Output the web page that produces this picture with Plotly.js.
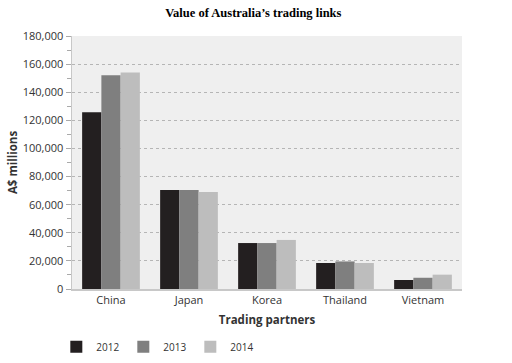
<!DOCTYPE html>
<html>
<head>
<meta charset="utf-8">
<script src="https://cdn.plot.ly/plotly-3.0.1.min.js"></script>
<style>html,body{margin:0;padding:0;background:#fff;}#chart{width:512px;height:363px;}</style>
</head>
<body>
<div id="chart"></div>
<script>
const categories = ["China", "Japan", "Korea", "Thailand", "Vietnam"];
const years = ["2012", "2013", "2014"];
const values2012 = [125700, 70400, 32700, 18500, 6400];
const values2013 = [152000, 70400, 32700, 19600, 8000];
const values2014 = [154000, 69000, 34900, 18500, 10200];
const colors = ["#231f20", "#7f7f7f", "#bdbdbd"];

const series = [values2012, values2013, values2014];
const data = series.map((vals, i) => ({
  type: "bar",
  name: years[i],
  x: categories,
  y: vals,
  marker: {color: colors[i], line: {width: 0}},
  hoverinfo: "x+y+name"
}));

const layout = {
  width: 512, height: 363,
  margin: {l: 72, r: 50, t: 36, b: 74, autoexpand: false},
  paper_bgcolor: "#ffffff",
  plot_bgcolor: "#efefef",
  barmode: "group",
  bargap: 0.26,
  bargroupgap: 0,
  font: {family: "Open Sans, sans-serif", size: 11, color: "#333"},
  title: {
    text: "<b>Value of Australia\u2019s trading links</b>",
    font: {family: "Liberation Serif, Times New Roman, serif", size: 12.5, color: "#000"},
    x: 0.465, xanchor: "center", y: 0.965, yanchor: "middle", xref: "paper"
  },
  xaxis: {
    showgrid: false,
    showline: true, linecolor: "#c8c8c8", linewidth: 1.5,
    ticks: "", tickfont: {size: 11, color: "#333"},
    automargin: false,
    title: {text: "<b>Trading partners</b>", font: {size: 11.5, color: "#333"}, standoff: 10}
  },
  yaxis: {
    range: [0, 180000],
    dtick: 20000,
    tickformat: ",d",
    automargin: false,
    showgrid: true, gridcolor: "#b5b5b5", griddash: "dot", gridwidth: 1,
    zeroline: false,
    showline: true, linecolor: "#c8c8c8", linewidth: 1.5,
    ticks: "outside", ticklen: 5, tickcolor: "#aaa",
    minor: {dtick: 10000, ticks: "outside", ticklen: 4, tickcolor: "#aaa", showgrid: false},
    tickfont: {size: 11, color: "#333"},
    title: {text: "<b>A$ millions</b>", font: {size: 11.5, color: "#333"}, standoff: 2}
  },
  legend: {
    orientation: "h",
    xref: "container", yref: "container",
    x: 0.11, xanchor: "left",
    y: 0.045, yanchor: "middle",
    font: {size: 10, color: "#333"},
    itemwidth: 30,
    entrywidth: 22,
    entrywidthmode: "pixels",
    traceorder: "normal"
  },
  showlegend: true
};

Plotly.newPlot("chart", data, layout, {displayModeBar: false, staticPlot: true});
</script>
</body>
</html>
